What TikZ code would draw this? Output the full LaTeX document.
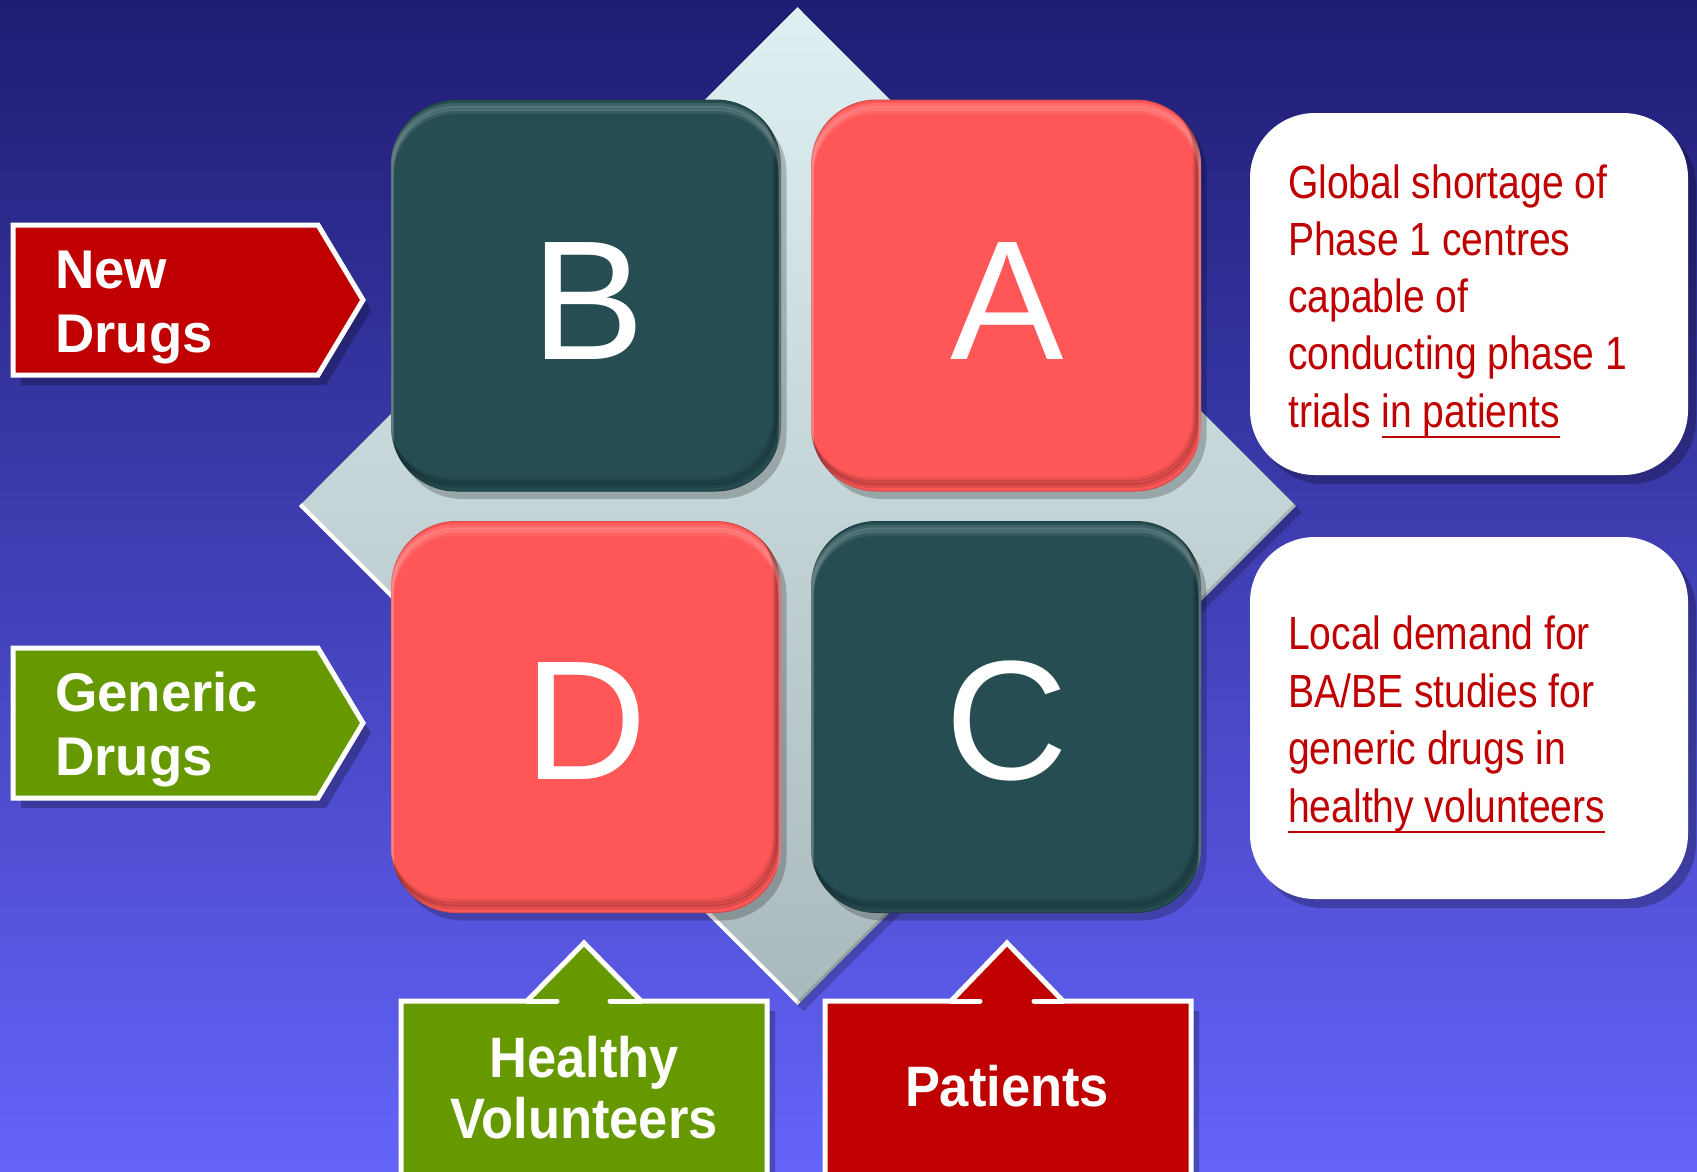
\documentclass[tikz,border=0pt]{standalone}
\usepackage{fontspec}
\setmainfont{Liberation Sans}
\newfontfamily\narrowfont[FakeStretch=0.84]{Liberation Sans}
\newfontfamily\semifont[FakeStretch=0.92]{Liberation Sans}
\usetikzlibrary{shadows}
\definecolor{bgtop}{RGB}{31,28,115}
\definecolor{bgbot}{RGB}{100,100,250}
\definecolor{sqdark}{RGB}{37,77,82}
\definecolor{sqred}{RGB}{255,87,87}
\definecolor{arrred}{RGB}{192,0,0}
\definecolor{arrgreen}{RGB}{102,153,0}
\definecolor{dmtop}{RGB}{222,240,242}
\definecolor{dmbot}{RGB}{170,185,187}
\definecolor{txtred}{RGB}{192,0,0}
\newcommand\ulx[1]{\setbox0\hbox{#1}\rlap{\rule[-11pt]{\wd0}{2.5pt}}\box0}
\newcommand\bevelsq[1]{%
  \begin{scope}
    \clip[rounded corners=65pt] (#1.south west) rectangle (#1.north east);
    \foreach \s/\o in {6/.12,9/.12,12/.08}{
      \draw[white, opacity=\o, line width=5pt, rounded corners=65pt]
        ([yshift=-\s pt]#1.south west) rectangle ([yshift=-\s pt]#1.north east);
      \draw[black, opacity=\o, line width=5pt, rounded corners=65pt]
        ([xshift=-\s pt/2,yshift=\s pt]#1.south west) rectangle ([xshift=-\s pt/2,yshift=\s pt]#1.north east);
    }
  \end{scope}}
\begin{document}
\begin{tikzpicture}[x=1pt,y=-1pt,
  sq/.style={rectangle, rounded corners=65pt, minimum width=389pt, minimum height=391pt,
    inner sep=0pt,
    drop shadow={shadow xshift=6pt, shadow yshift=-8pt, opacity=.22, fill=black}},
  letter/.style={inner sep=0pt, text=white, font=\fontsize{170}{170}\selectfont, anchor=base},
  arrowshape/.style={draw=white, line width=5pt, line join=miter,
    drop shadow={shadow xshift=8pt, shadow yshift=-10pt, opacity=.25, fill=black}},
  stub/.style={draw=white, line width=5pt, line cap=round},
  lbl/.style={inner sep=0pt, text=white, font=\bfseries\fontsize{54.5}{54.5}\selectfont},
  blbl/.style={inner sep=0pt, text=white, font=\semifont\bfseries\fontsize{57}{57}\selectfont},
  wbox/.style={rectangle, rounded corners=65pt, fill=white, minimum width=438pt,
    minimum height=362pt, inner sep=0pt,
    drop shadow={shadow xshift=8pt, shadow yshift=-9pt, opacity=.25, fill=black}},
  rtxt/.style={inner sep=0pt, anchor=base west, text=txtred,
    font=\narrowfont\fontsize{46.5}{46.5}\selectfont}
]
\useasboundingbox (0,0) rectangle (1697,1171);
\clip (0,0) rectangle (1697,1171);
% background
\fill[top color=bgtop, bottom color=bgbot] (0,0) rectangle (1697,1171);

% diamond
\fill[top color=dmtop, bottom color=dmbot,
  drop shadow={shadow xshift=6pt, shadow yshift=-6pt, opacity=.2, fill=black}]
  (797.5,7) -- (1296,506) -- (797.5,1005) -- (299,506) -- cycle;
\begin{scope}
  \clip (797.5,7) -- (1296,506) -- (797.5,1005) -- (299,506) -- cycle;
  \draw[white, line width=8pt] (299,506) -- (797.5,1005);
  \draw[black, opacity=.15, line width=6pt] (797.5,1005) -- (1296,506);
\end{scope}

% squares
\node[sq, fill=sqdark, draw=sqdark!80!black, line width=1pt] (B) at (586,295.5) {};
\node[sq, fill=sqred, draw=sqred!85!black, line width=1pt] (A) at (1006,295.5) {};
\node[sq, fill=sqred, draw=sqred!85!black, line width=1pt] (D) at (586,717) {};
\node[sq, fill=sqdark, draw=sqdark!80!black, line width=1pt] (C) at (1006,717) {};
\bevelsq{B}\bevelsq{A}\bevelsq{D}\bevelsq{C}
\node[letter] (Bl) at (588,359) {B};
\node[letter] (Al) at (1007,359) {A};
\node[letter] (Dl) at (586,779) {D};
\node[letter] (Cl) at (1007,779) {C};

% left arrows
\draw[arrowshape, fill=arrred] (13,225) -- (318,225) -- (363,300) -- (318,375) -- (13,375) -- cycle;
\node[lbl, anchor=base west] (nd1) at (55,288) {New};
\node[lbl, anchor=base west] (nd2) at (55,352) {Drugs};
\draw[arrowshape, fill=arrgreen] (13,648) -- (318,648) -- (363,723) -- (318,798) -- (13,798) -- cycle;
\node[lbl, anchor=base west] (gd1) at (55,711) {Generic};
\node[lbl, anchor=base west] (gd2) at (55,775) {Drugs};

% bottom arrows
\draw[arrowshape, fill=arrgreen] (401,1190) -- (401,1001) -- (527,1001) -- (584,943)
  -- (641,1001) -- (767,1001) -- (767,1190);
\draw[stub] (527,1001) -- (557,1001);
\draw[stub] (610,1001) -- (641,1001);
\node[blbl, anchor=base] (hv1) at (584,1077) {Healthy};
\node[blbl, anchor=base] (hv2) at (584,1138) {Volunteers};
\draw[arrowshape, fill=arrred] (825,1190) -- (825,1001) -- (951,1001) -- (1007,943)
  -- (1063,1001) -- (1191,1001) -- (1191,1190);
\draw[stub] (951,1001) -- (980,1001);
\draw[stub] (1034,1001) -- (1063,1001);
\node[blbl, anchor=base] (pt) at (1007,1106) {Patients};

% right boxes
\node[wbox] (box1) at (1469,294) {};
\node[wbox] (box2) at (1469,718) {};
\node[rtxt] (g1) at (1288,198) {Global shortage of};
\node[rtxt] (g2) at (1288,255) {Phase 1 centres};
\node[rtxt] (g3) at (1288,312) {capable of};
\node[rtxt] (g4) at (1288,369) {conducting phase 1};
\node[rtxt] (g5) at (1288,427) {trials \ulx{in patients}};
\node[rtxt] (l1) at (1288,649) {Local demand for};
\node[rtxt] (l2) at (1288,707) {BA/BE studies for};
\node[rtxt] (l3) at (1288,764) {generic drugs in};
\node[rtxt] (l4) at (1288,822) {\ulx{healthy volunteers}};
\end{tikzpicture}
\end{document}
